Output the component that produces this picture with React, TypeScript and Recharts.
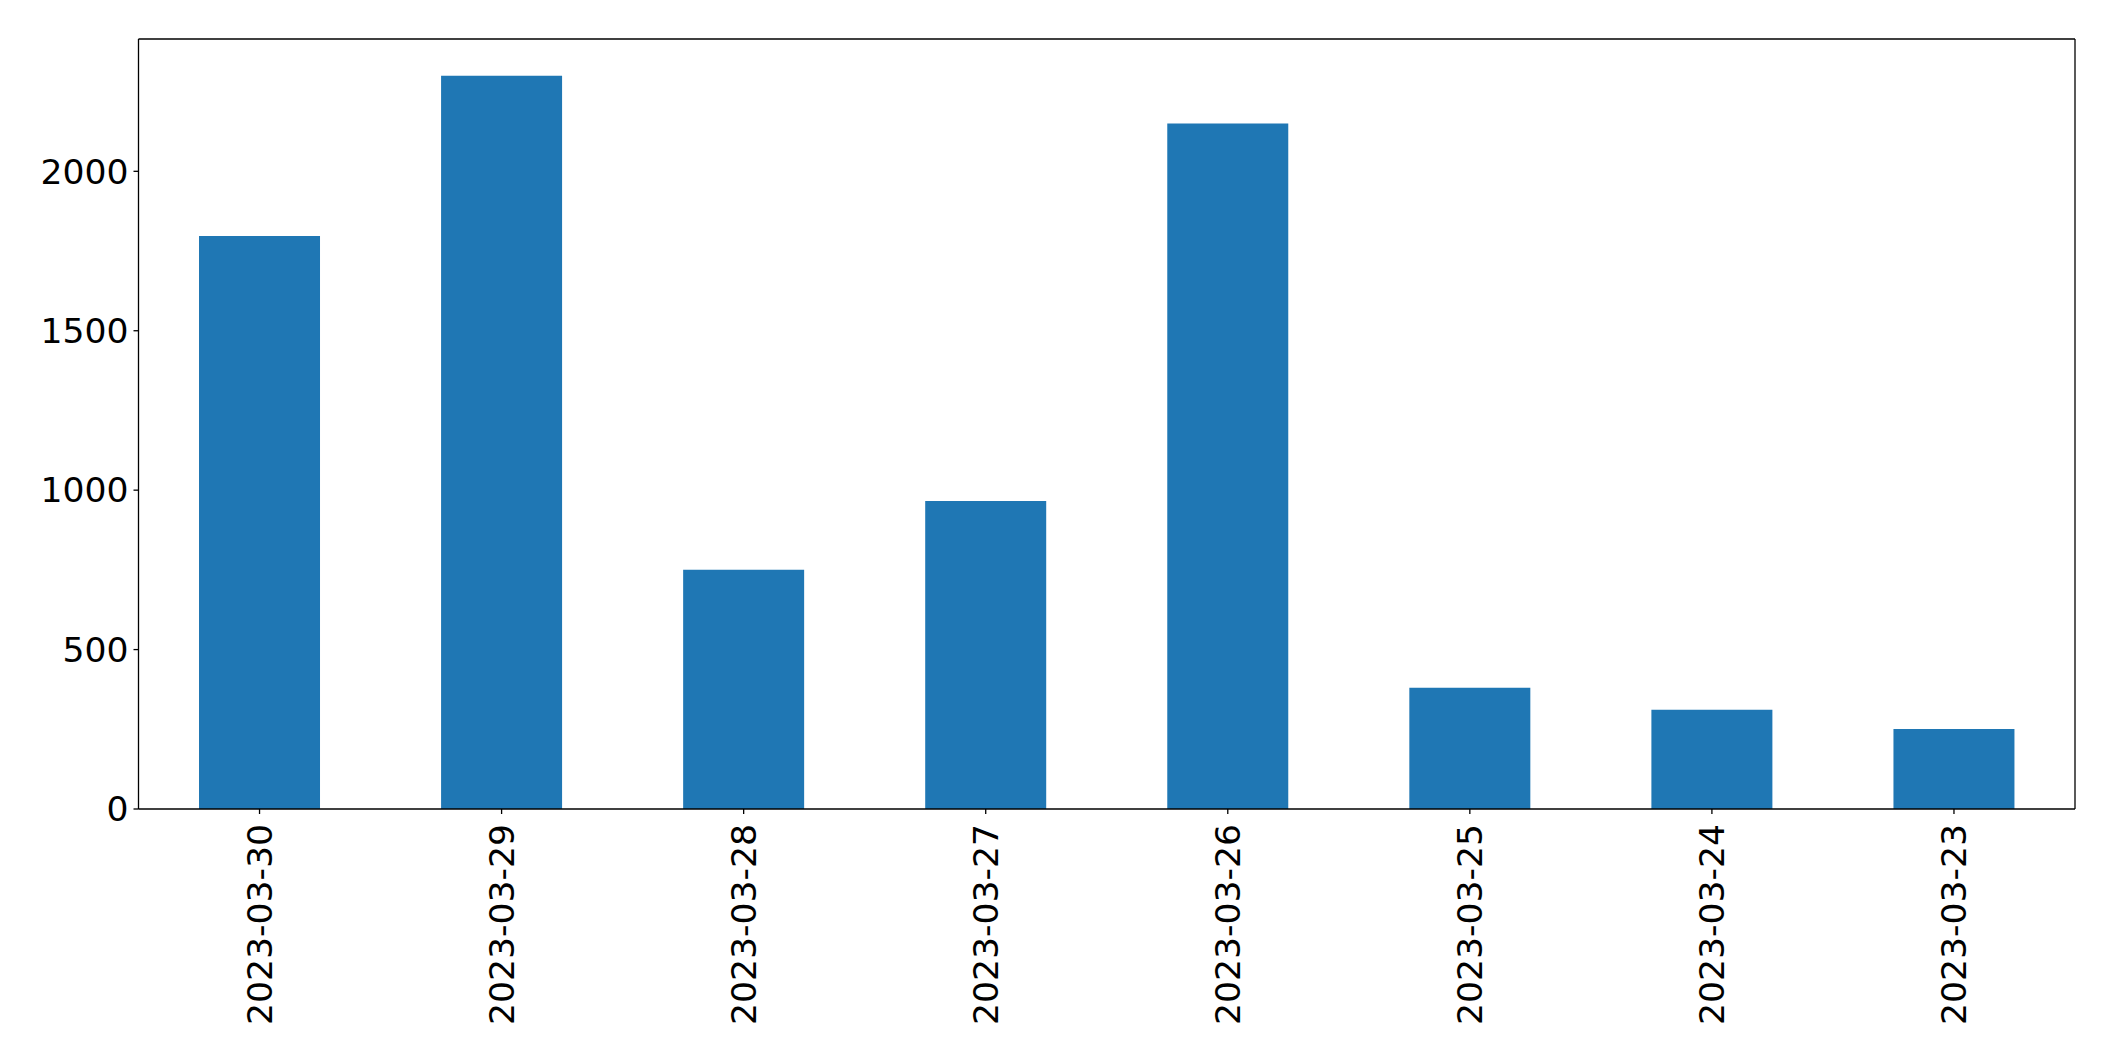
import React from 'react';
import { BarChart, Bar, XAxis, YAxis, CartesianGrid } from 'recharts';

const dates = ['2023-03-30', '2023-03-29', '2023-03-28', '2023-03-27', '2023-03-26', '2023-03-25', '2023-03-24', '2023-03-23'];
const counts = [1797, 2300, 750, 966, 2150, 380, 311, 251];
const yTicks = [0, 500, 1000, 1500, 2000];

const data = dates.map((d, i) => ({ date: d, count: counts[i] }));

const FONT = 'DejaVu Sans, sans-serif';
const FONT_SIZE = 34.6;

// rotated date label, reads bottom to top like matplotlib rotation=90
const DateTick = (props: any) => {
  const { x, y, payload } = props;
  return (
    <text
      x={0}
      y={0}
      transform={`translate(${x}, ${y + 8}) rotate(-90)`}
      textAnchor="end"
      dy="0.36em"
      fontFamily={FONT}
      fontSize={FONT_SIZE}
      fill="#000"
    >
      {payload.value}
    </text>
  );
};

// grid used only for the top and right edges of the frame
const topEdge = ({ offset }: any) => [offset.top];
const rightEdge = ({ offset }: any) => [offset.left + offset.width];

const App: React.FC = () => {
  return (
    <div style={{ position: 'absolute', left: 0, top: 0, background: '#fff' }}>
      <BarChart
        width={2115}
        height={1061}
        data={data}
        margin={{ top: 39, right: 40, left: 0, bottom: 0 }}
        barCategoryGap="25%"
      >
        <CartesianGrid
          stroke="#000"
          strokeWidth={1.3}
          horizontalCoordinatesGenerator={topEdge}
          verticalCoordinatesGenerator={rightEdge}
        />
        <XAxis
          dataKey="date"
          height={252}
          tickSize={5}
          tickMargin={2}
          stroke="#000"
          axisLine={{ stroke: '#000', strokeWidth: 1.3 }}
          tickLine={{ stroke: '#000', strokeWidth: 1.3 }}
          tick={<DateTick />}
          interval={0}
        />
        <YAxis
          width={138.5}
          domain={[0, 2415]}
          ticks={yTicks}
          tickSize={5}
          tickMargin={5}
          axisLine={{ stroke: '#000', strokeWidth: 1.3 }}
          tickLine={{ stroke: '#000', strokeWidth: 1.3 }}
          tick={{ fill: '#000', fontSize: FONT_SIZE, fontFamily: FONT }}
          allowDataOverflow
        />
        <Bar dataKey="count" fill="#1f77b4" isAnimationActive={false} />
      </BarChart>
    </div>
  );
};

export default App;
